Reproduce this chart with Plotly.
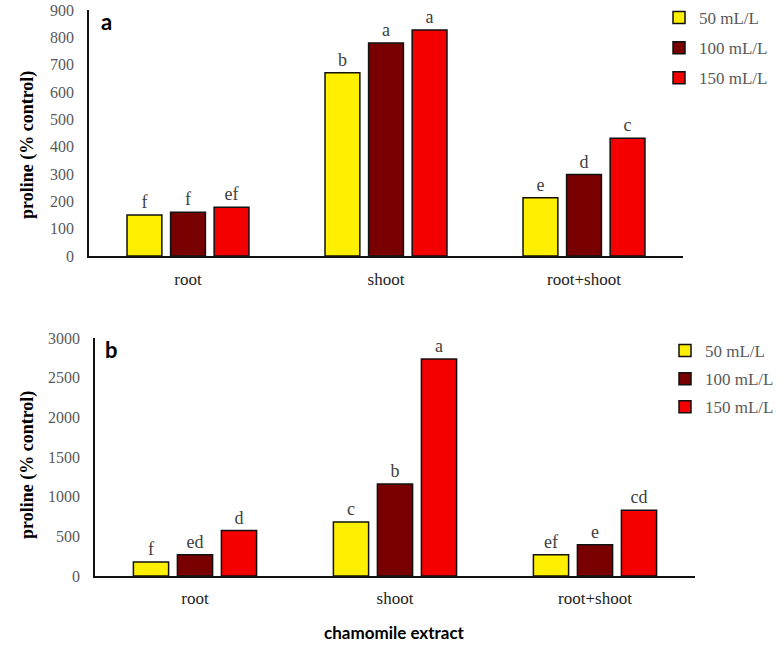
import plotly.graph_objects as go

categories = ["root", "shoot", "root+shoot"]
series_names = ["50 mL/L", "100 mL/L", "150 mL/L"]

# panel a
a_50 = [150, 670, 213]
a_100 = [160, 779, 298]
a_150 = [178, 827, 431]
a_letters_50 = ["f", "b", "e"]
a_letters_100 = ["f", "a", "d"]
a_letters_150 = ["ef", "a", "c"]

# panel b
b_50 = [177, 682, 269]
b_100 = [269, 1161, 395]
b_150 = [572, 2735, 829]
b_letters_50 = ["f", "c", "ef"]
b_letters_100 = ["ed", "b", "e"]
b_letters_150 = ["d", "a", "cd"]

a_ticks = [0, 100, 200, 300, 400, 500, 600, 700, 800, 900]
b_ticks = [0, 500, 1000, 1500, 2000, 2500, 3000]

colors = ["#FFEF00", "#780000", "#F50000"]
W, H = 781, 646
SERIF = "Liberation Serif"
GRAY = "#595959"

fig = go.Figure()

panels = [
    ("x", "y", "legend", [a_50, a_100, a_150], [a_letters_50, a_letters_100, a_letters_150]),
    ("x2", "y2", "legend2", [b_50, b_100, b_150], [b_letters_50, b_letters_100, b_letters_150]),
]
for pi, (xa, ya, lg, vals, letters) in enumerate(panels):
    for i in range(3):
        fig.add_trace(go.Bar(
            x=categories, y=vals[i], name=series_names[i],
            marker=dict(color=colors[i], line=dict(color="#111111", width=1.5)),
            text=letters[i], textposition="outside", constraintext="none",
            textfont=dict(family=SERIF, size=18, color="#404040"),
            cliponaxis=False, xaxis=xa, yaxis=ya, legend=lg,
            legendgroup=f"{pi}-{i}", hoverinfo="skip",
        ))

def px_x(v):
    return v / W

def px_y(v):
    return 1 - v / H

line_common = dict(showline=True, linecolor="#111111", linewidth=1.5, showgrid=False,
                   zeroline=False, ticks="outside", tickcolor="rgba(0,0,0,0)")
ytick_font = dict(family=SERIF, size=16, color=GRAY)
xtick_font = dict(family=SERIF, size=17, color="#222222")

fig.update_layout(
    width=W, height=H, margin=dict(l=0, r=0, t=0, b=0, autoexpand=False),
    paper_bgcolor="white", plot_bgcolor="white",
    barmode="group", bargap=0.34, bargroupgap=0.2,
    xaxis=dict(domain=[px_x(89), px_x(683)], anchor="y", ticklen=7,
               tickfont=xtick_font, **line_common),
    yaxis=dict(domain=[px_y(256), px_y(10)], anchor="x", range=[0, 900],
               tickvals=a_ticks, ticklen=10, tickfont=ytick_font, **line_common),
    xaxis2=dict(domain=[px_x(95), px_x(695)], anchor="y2", ticklen=6,
                tickfont=xtick_font, **line_common),
    yaxis2=dict(domain=[px_y(576), px_y(338)], anchor="x2", range=[0, 3000],
                tickvals=b_ticks, ticklen=10, tickfont=ytick_font, **line_common),
    legend=dict(x=px_x(659), y=1, xanchor="left", yanchor="top",
                font=dict(family=SERIF, size=17, color=GRAY),
                traceorder="grouped", tracegroupgap=5, bgcolor="rgba(0,0,0,0)"),
    legend2=dict(x=px_x(665), y=px_y(333), xanchor="left", yanchor="top",
                 font=dict(family=SERIF, size=17, color=GRAY),
                 traceorder="grouped", tracegroupgap=3, bgcolor="rgba(0,0,0,0)"),
    annotations=[
        dict(text="<b>proline (% control)</b>", x=px_x(27), y=px_y(145), xref="paper", yref="paper",
             xanchor="center", yanchor="middle",
             textangle=-90, showarrow=False, font=dict(family=SERIF, size=18, color="#000000")),
        dict(text="<b>proline (% control)</b>", x=px_x(27), y=px_y(465), xref="paper", yref="paper",
             xanchor="center", yanchor="middle",
             textangle=-90, showarrow=False, font=dict(family=SERIF, size=18, color="#000000")),
        dict(text="<b>a</b>", x=px_x(99), y=px_y(22), xref="paper", yref="paper",
             xanchor="left", yanchor="middle", showarrow=False,
             font=dict(family="Lato", size=22, color="#000000")),
        dict(text="<b>b</b>", x=px_x(103), y=px_y(349), xref="paper", yref="paper",
             xanchor="left", yanchor="middle", showarrow=False,
             font=dict(family="Lato", size=22, color="#000000")),
        dict(text="<b>chamomile extract</b>", x=px_x(395), y=px_y(632), xref="paper", yref="paper",
             xanchor="center", yanchor="middle",
             showarrow=False, font=dict(family="Lato", size=17, color="#000000")),
    ],
)

fig.write_html("out.html", config={"displayModeBar": False},
               post_script="document.body.style.margin='0';document.body.style.overflow='hidden';")
